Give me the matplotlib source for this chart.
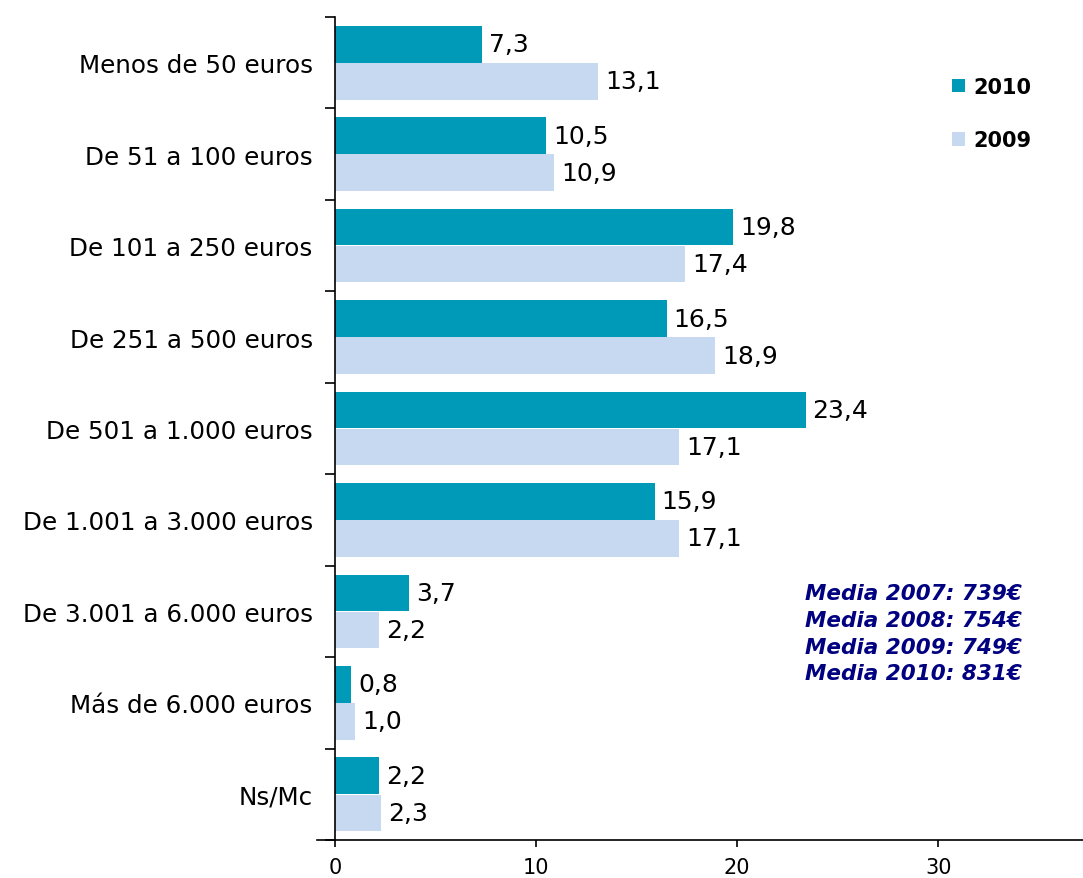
import numpy as np
import matplotlib
matplotlib.use('Agg')
import matplotlib.pyplot as plt
from matplotlib.ticker import FixedLocator

plt.rcParams['font.family'] = ['DejaVu Sans']

# Data (percent), top to bottom
categories = ['Menos de 50 euros', 'De 51 a 100 euros', 'De 101 a 250 euros',
              'De 251 a 500 euros', 'De 501 a 1.000 euros', 'De 1.001 a 3.000 euros',
              'De 3.001 a 6.000 euros', 'Más de 6.000 euros', 'Ns/Mc']
values_2010 = [7.3, 10.5, 19.8, 16.5, 23.4, 15.9, 3.7, 0.8, 2.2]
values_2009 = [13.1, 10.9, 17.4, 18.9, 17.1, 17.1, 2.2, 1.0, 2.3]
media_lines = ['Media 2007: 739€', 'Media 2008: 754€', 'Media 2009: 749€', 'Media 2010: 831€']

color_2010 = '#009AB9'
color_2009 = '#C6D9F1'

fig = plt.figure(figsize=(10.83, 8.79), dpi=100)
ax = fig.add_axes([0.3093, 0.0432, 0.6907, 0.9363])

y = np.arange(len(categories))
h = 0.40
b1 = ax.barh(y - 0.2025, values_2010, height=h, color=color_2010, label='2010')
b2 = ax.barh(y + 0.2025, values_2009, height=h, color=color_2009, label='2009')

def fmt(v):
    return f'{v:.1f}'.replace('.', ',')

for bars, vals in [(b1, values_2010), (b2, values_2009)]:
    for rect, v in zip(bars, vals):
        ax.annotate(fmt(v), (rect.get_width(), rect.get_y() + rect.get_height() / 2),
                    xytext=(5, 0), textcoords='offset points', va='center', ha='left',
                    fontsize=18)

ax.set_xlim(0, 37.2)
ax.set_ylim(len(categories) - 0.5, -0.5)

ax.set_yticks(y)
ax.set_yticklabels(categories, fontsize=17.7)
ax.yaxis.set_minor_locator(FixedLocator(np.arange(len(categories) + 1) - 0.5))
ax.tick_params(axis='y', which='major', length=0, pad=16)
ax.tick_params(axis='y', which='minor', length=7, width=1.2, direction='out')

ax.set_xticks([0, 10, 20, 30])
ax.tick_params(axis='x', which='major', length=5, width=1.2, labelsize=15, pad=7)

for s in ['top', 'right']:
    ax.spines[s].set_visible(False)
ax.spines['left'].set_linewidth(1.2)
ax.spines['bottom'].set_linewidth(1.2)
ax.plot([-0.024, 0], [0, 0], transform=ax.transAxes, color='black', lw=1.2, clip_on=False)

leg = ax.legend(handles=[b1, b2], loc='upper left', bbox_to_anchor=(0.8, 0.95),
                frameon=False, prop={'weight': 'bold', 'size': 15},
                handlelength=0.6, handleheight=0.6, handletextpad=0.4, labelspacing=1.6)

for i, line in enumerate(media_lines):
    ax.text(0.918, 0.300 - i * 0.0325, line, transform=ax.transAxes, ha='right', va='center',
            fontsize=15.5, fontweight='bold', fontstyle='italic', color='#000080')

fig.savefig('out.png', dpi=100)
